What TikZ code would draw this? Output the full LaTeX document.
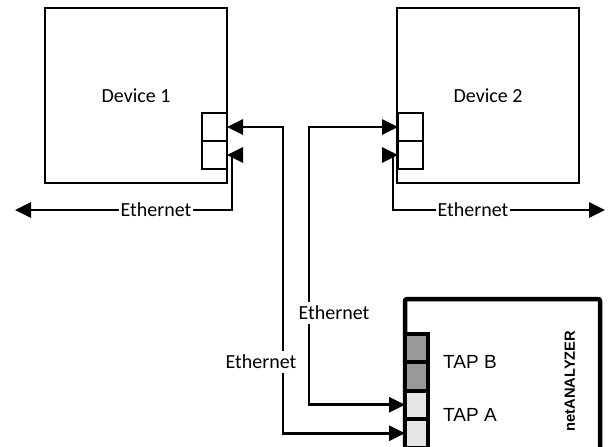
\documentclass[tikz,border=0pt]{standalone}
\usepackage{fontspec}
\setmainfont{Carlito}
\newfontfamily\arialfont{Liberation Sans}
\usepackage{xcolor}
\usetikzlibrary{arrows.meta,positioning,calc}
\definecolor{tapdark}{HTML}{999999}
\definecolor{taplight}{HTML}{E6E6E6}

\begin{document}
\begin{tikzpicture}[
  x=1pt, y=-1pt,
  node distance=0pt,
  device/.style={draw=black,line width=2.8pt,minimum width=182pt,
    minimum height=175pt,inner sep=0pt,font=\fontsize{20}{24}\selectfont},
  port/.style={draw=black,fill=white,line width=2.8pt,minimum width=25pt,
    minimum height=28pt,inner sep=0pt,outer sep=0pt},
  analyzer/.style={draw=black,fill=white,line width=4.5pt,rounded corners=2pt,
    minimum width=195pt,minimum height=170pt,inner sep=0pt,outer sep=0pt},
  tapport/.style={draw=black,line width=4pt,minimum width=23pt,
    minimum height=28.5pt,inner sep=0pt,outer sep=0pt},
  taplabel/.style={font=\arialfont\fontsize{19}{22}\selectfont,inner sep=0pt},
  lbl/.style={fill=white,font=\fontsize{20}{24}\selectfont,
    inner xsep=2pt,inner ysep=4pt},
  link/.style={{Triangle[length=16pt,width=15pt]}-{Triangle[length=16pt,width=15pt]},
    line width=2.8pt}
]
\clip (0,0) rectangle (608,447);
% devices with their two ports
\node[device] (dev1) at (136,95.5) {Device 1};
\node[device] (dev2) at (488,95.5) {Device 2};
\node[port] (d1pa) at (214.5,127) {};
\node[port, below=of d1pa] (d1pb) {};
\node[port] (d2pa) at (410.5,127) {};
\node[port, below=of d2pa] (d2pb) {};
% netANALYZER
\node[analyzer, anchor=north west] (nana) at (405,299) {};
\node[tapport, fill=tapdark] (tap1) at (416.5,347.75) {};
\node[tapport, fill=tapdark, below=of tap1] (tap2) {};
\node[tapport, fill=taplight, below=of tap2] (tap3) {};
\node[tapport, fill=taplight, below=of tap3] (tap4) {};
\node[taplabel, anchor=west] (tapb) at (443,362) {TAP B};
\node[taplabel, anchor=west] (tapa) at (443,415) {TAP A};
\node[rotate=90, font=\arialfont\bfseries\fontsize{14.7}{17}\selectfont]
  (nalbl) at (570,381) {netANALYZER};
% connectors
\coordinate (jA) at (283,0);
\coordinate (jB) at (309,0);
\coordinate (endL) at (15,210);
\coordinate (endR) at (605,210);
\draw[link] (d1pa.east) -| (tap4.west -| jA) -- (tap4.west);
\draw[link] (d2pa.west) -| (tap3.west -| jB) -- (tap3.west);
\draw[link] (d1pb.east) -- ++(5,0) |- (endL);
\draw[link] (d2pb.west) -- ++(-5,0) |- (endR);
\node[lbl] (ethL) at (156,210) {Ethernet};
\node[lbl] (ethR) at (473,210) {Ethernet};
\node[lbl] (ethB) at (334,313) {Ethernet};
\node[lbl] (ethA) at (261,362) {Ethernet};
\end{tikzpicture}
\end{document}
